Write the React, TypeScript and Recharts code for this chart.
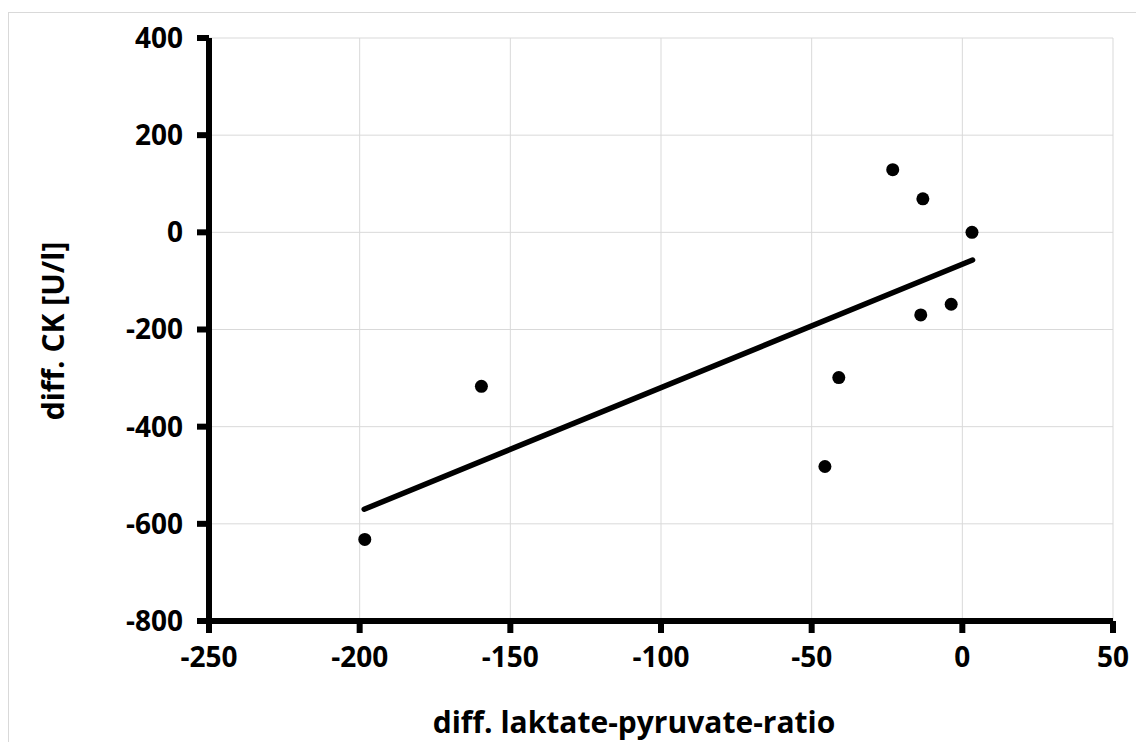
import { CartesianGrid, Scatter, ScatterChart, XAxis, YAxis } from 'recharts';

// measured points (diff. laktate-pyruvate-ratio vs diff. CK)
const ratioDiff = [-198.3, -159.6, -45.6, -41, -23.1, -13.1, -13.8, -3.7, 3.2];
const ckDiff = [-632, -317, -482, -299, 129, 69, -170, -148, 0];

// linear trendline end points as drawn
const trendX = [-198.5, 3.4];
const trendY = [-570, -57];

const xTicks = [-250, -200, -150, -100, -50, 0, 50];
const yTicks = [-800, -600, -400, -200, 0, 200, 400];

const FONT = '"Open Sans", sans-serif';
const GRID = '#d9d9d9';

const points = ratioDiff.map((x, i) => ({ x, y: ckDiff[i] }));
const trend = trendX.map((x, i) => ({ x, y: trendY[i] }));

const tickStyle = { fill: '#000', fontSize: 28, fontWeight: 700, fontFamily: FONT };

export default function App() {
  return (
    <div style={{ position: 'absolute', left: 0, top: 0, width: 1136, height: 742, background: '#fff' }}>
      <div
        style={{
          position: 'absolute',
          left: 8,
          top: 12,
          right: 0,
          bottom: 0,
          borderTop: `1px solid ${GRID}`,
          borderLeft: `1px solid ${GRID}`,
        }}
      />
      <ScatterChart width={1136} height={742} margin={{ top: 38, right: 23, bottom: 0, left: 0 }}>
        <CartesianGrid stroke={GRID} strokeWidth={1} />
        <XAxis
          type="number"
          dataKey="x"
          domain={[-250, 50]}
          ticks={xTicks}
          allowDataOverflow
          height={121}
          axisLine={{ stroke: '#000', strokeWidth: 6 }}
          tickLine={{ stroke: '#000', strokeWidth: 6 }}
          tickSize={12}
          tickMargin={14}
          tick={tickStyle}
          label={{
            position: 'insideBottom',
            content: (props: any) => {
              const vb = props.viewBox;
              return (
                <text
                  x={vb.x + vb.width / 2 - 27}
                  y={vb.y + vb.height - 9}
                  textAnchor="middle"
                  fill="#000"
                  fontSize={30}
                  fontWeight={700}
                  fontFamily={FONT}
                >
                  diff. laktate-pyruvate-ratio
                </text>
              );
            },
          }}
        />
        <YAxis
          type="number"
          dataKey="y"
          domain={[-800, 400]}
          ticks={yTicks}
          allowDataOverflow
          width={209}
          axisLine={{ stroke: '#000', strokeWidth: 6 }}
          tickLine={{ stroke: '#000', strokeWidth: 6 }}
          tickSize={12}
          tickMargin={14}
          tick={tickStyle}
          label={{
            position: 'insideLeft',
            content: () => (
              <text
                x={52}
                y={331}
                transform="rotate(-90, 52, 331)"
                textAnchor="middle"
                dominantBaseline="central"
                fill="#000"
                fontSize={30}
                fontWeight={700}
                fontFamily={FONT}
              >
                diff. CK [U/l]
              </text>
            ),
          }}
        />
        <Scatter
          data={trend}
          isAnimationActive={false}
          line={{ stroke: '#000', strokeWidth: 5.5, strokeLinecap: 'round' }}
          shape={() => <g />}
        />
        <Scatter
          data={points}
          isAnimationActive={false}
          shape={(p: any) => <circle cx={p.cx} cy={p.cy} r={6.5} fill="#000" />}
        />
      </ScatterChart>
    </div>
  );
}
